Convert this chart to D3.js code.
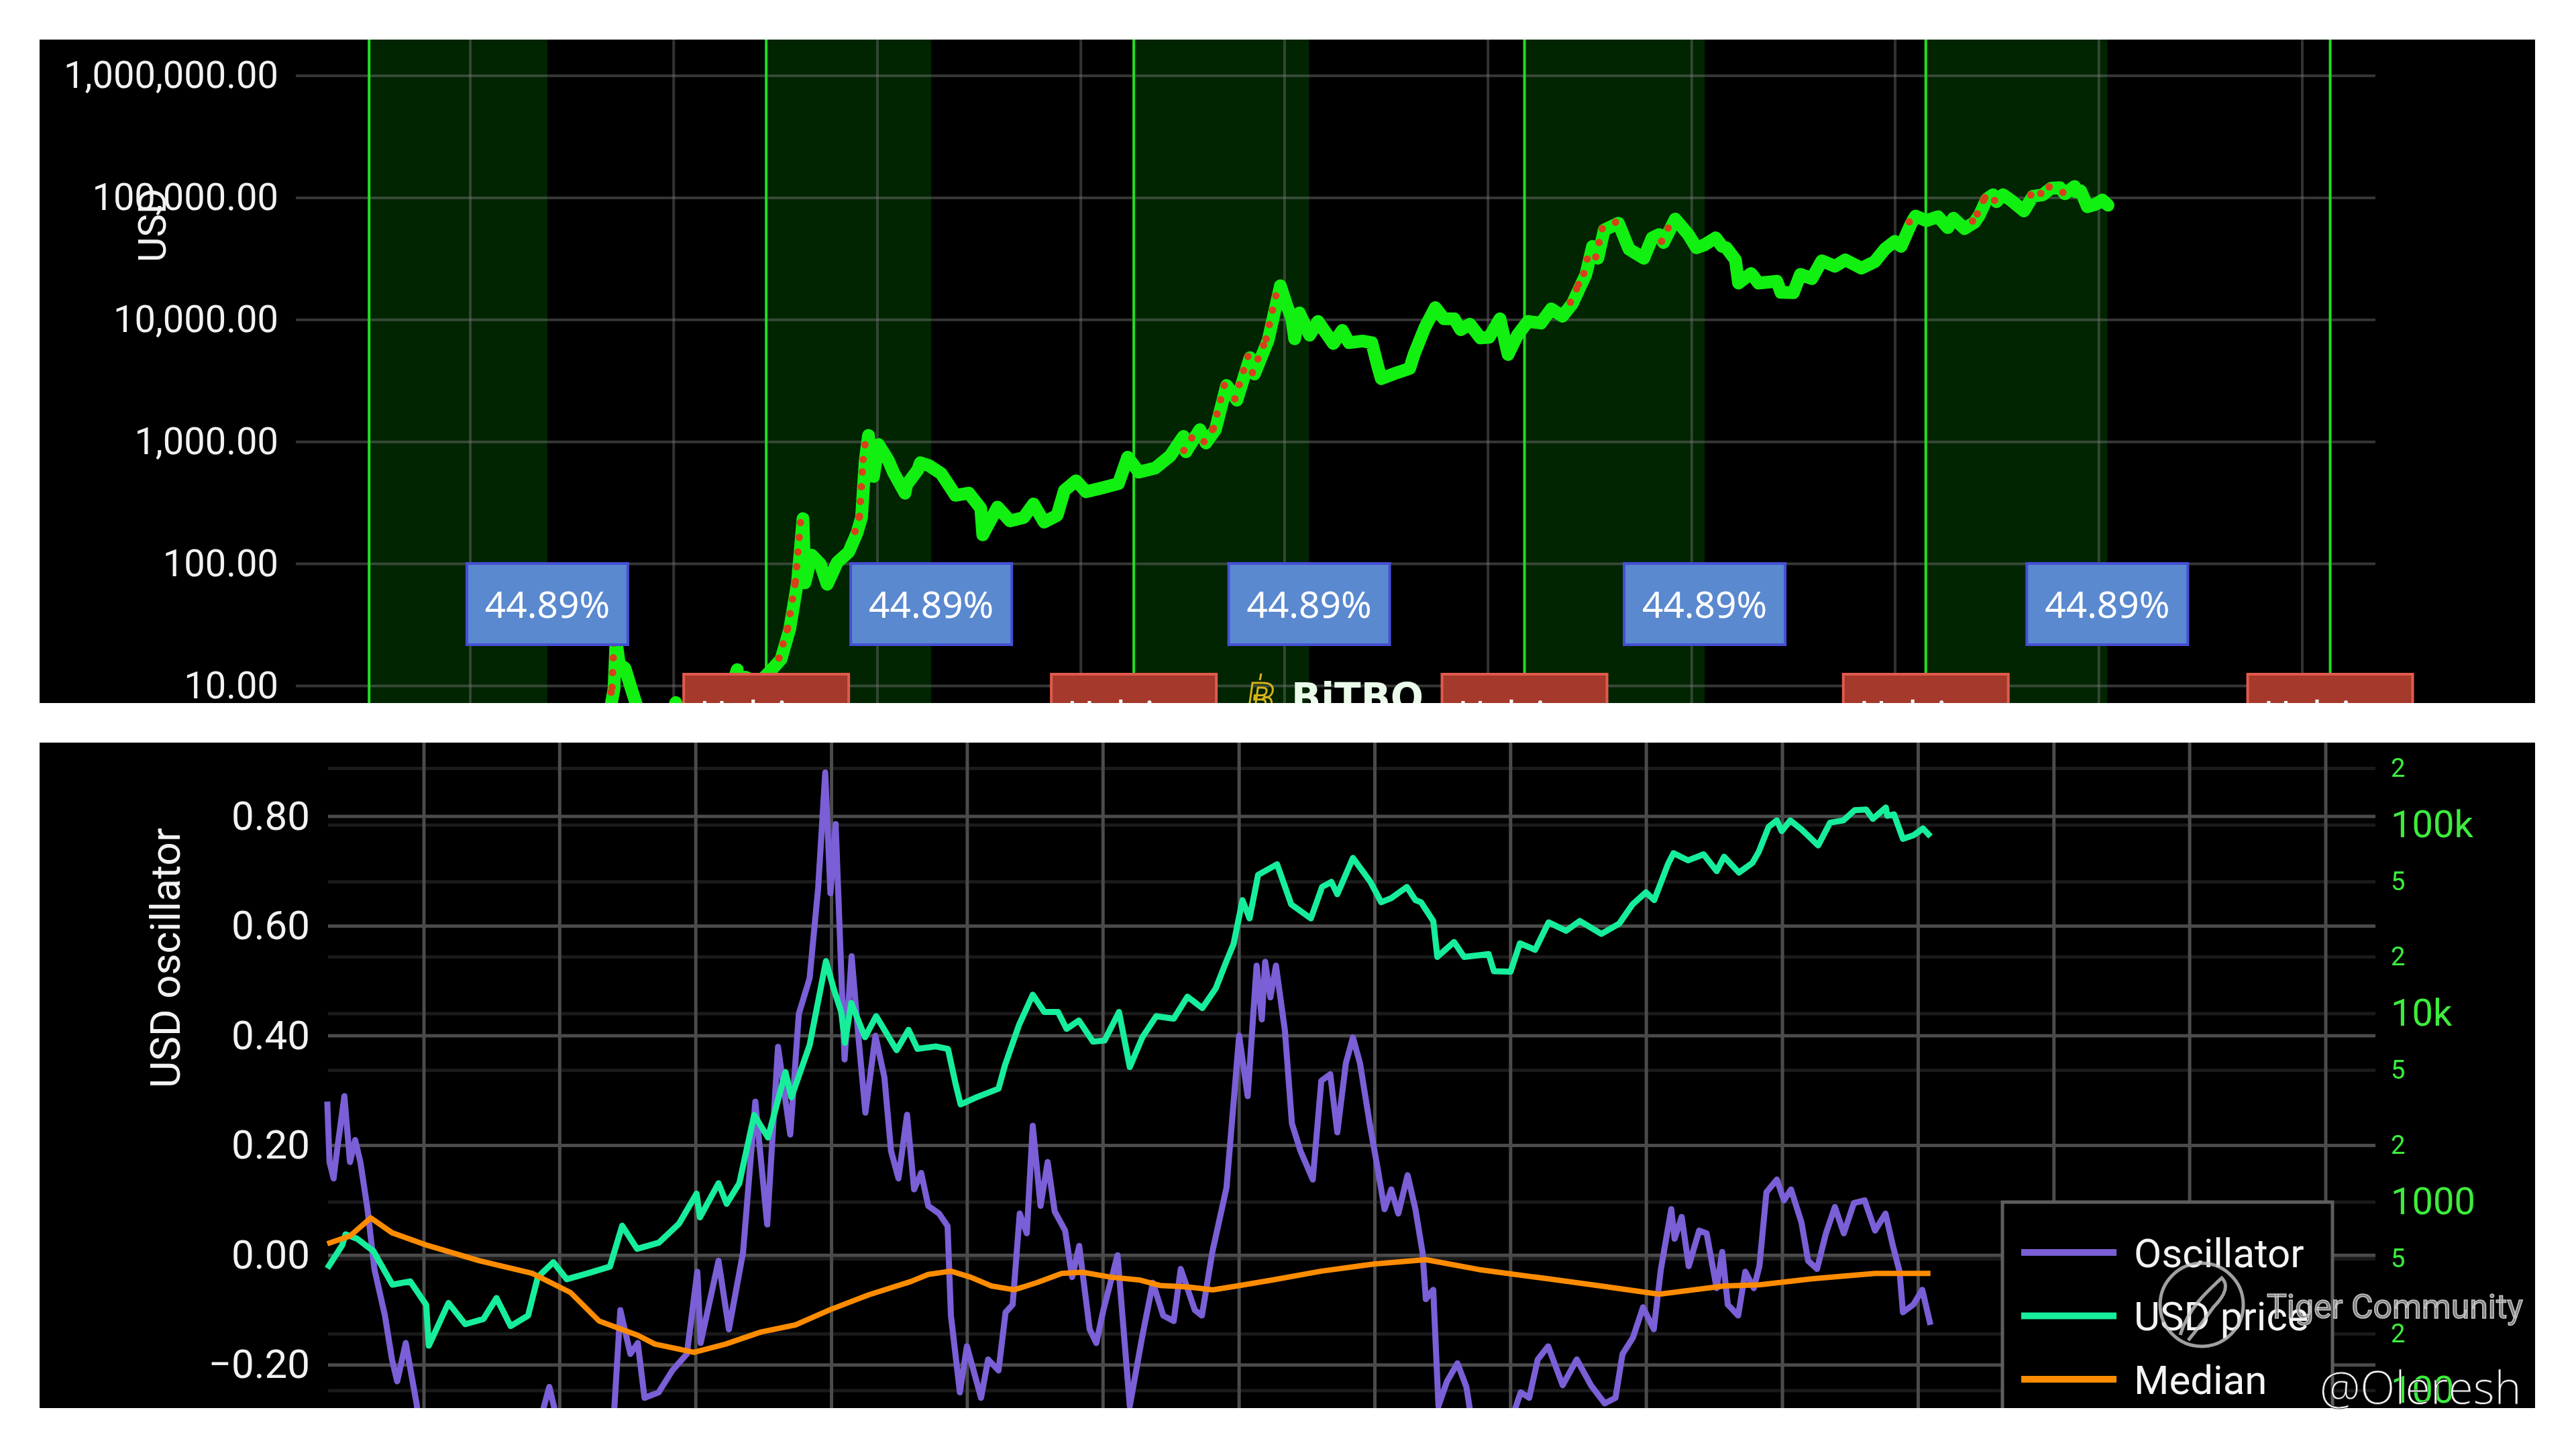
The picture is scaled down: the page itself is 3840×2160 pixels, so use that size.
<!DOCTYPE html>
<html><head><meta charset="utf-8">
<script src="https://cdn.jsdelivr.net/npm/d3@7"></script>
<style>html,body{margin:0;padding:0;background:#fff;overflow:hidden}svg{display:block}</style>
</head><body>
<svg id="c" width="3840" height="2160"></svg>
<script>
// ---------------- DATA ----------------
const priceDates = ["2010-07-18","2010-10-15","2010-11-07","2011-01-15","2011-02-10","2011-04-15","2011-05-10","2011-06-01","2011-06-08","2011-06-14","2011-06-20","2011-07-10","2011-08-05","2011-09-10","2011-10-20","2011-11-18","2012-01-08","2012-02-20","2012-04-15","2012-06-10","2012-07-10","2012-08-16","2012-08-20","2012-09-15","2012-11-01","2012-12-15","2013-01-20","2013-02-20","2013-03-20","2013-04-09","2013-04-16","2013-05-10","2013-06-10","2013-07-05","2013-08-10","2013-09-20","2013-10-20","2013-11-05","2013-11-18","2013-11-30","2013-12-18","2014-01-05","2014-02-10","2014-02-28","2014-04-10","2014-04-16","2014-05-26","2014-06-04","2014-07-05","2014-08-18","2014-10-08","2014-11-25","2015-01-07","2015-01-14","2015-03-08","2015-04-22","2015-06-10","2015-07-15","2015-08-22","2015-10-08","2015-11-03","2015-12-15","2016-01-20","2016-03-18","2016-05-15","2016-06-17","2016-07-27","2016-09-24","2016-11-17","2017-01-03","2017-01-12","2017-03-03","2017-03-25","2017-04-28","2017-06-07","2017-07-14","2017-08-30","2017-09-15","2017-11-03","2017-12-17","2018-01-08","2018-01-27","2018-02-06","2018-02-23","2018-04-01","2018-05-01","2018-06-25","2018-07-27","2018-08-20","2018-10-08","2018-11-10","2018-12-01","2018-12-14","2019-01-26","2019-03-26","2019-04-12","2019-05-20","2019-06-26","2019-07-27","2019-09-02","2019-09-25","2019-10-28","2019-12-05","2020-01-05","2020-02-13","2020-03-13","2020-04-16","2020-05-23","2020-07-09","2020-08-15","2020-09-24","2020-10-30","2020-11-28","2020-12-17","2021-01-10","2021-01-29","2021-02-21","2021-04-13","2021-05-21","2021-07-13","2021-08-12","2021-09-06","2021-09-22","2021-11-03","2021-12-20","2022-01-18","2022-02-14","2022-03-28","2022-04-20","2022-05-05","2022-06-07","2022-06-18","2022-08-02","2022-08-29","2022-11-03","2022-11-17","2023-01-01","2023-01-26","2023-03-08","2023-04-13","2023-05-30","2023-07-06","2023-09-02","2023-10-20","2023-11-25","2023-12-31","2024-01-22","2024-02-28","2024-03-14","2024-04-22","2024-06-03","2024-07-08","2024-07-28","2024-09-06","2024-10-12","2024-10-29","2024-11-25","2024-12-17","2024-12-30","2025-01-22","2025-02-21","2025-04-07","2025-05-09","2025-06-14","2025-07-14","2025-08-14","2025-09-01","2025-10-06","2025-10-10","2025-10-28","2025-11-21","2025-12-20","2026-01-14","2026-02-03"];
const priceValues = [0.06,0.1,0.39,0.4,1.05,1.2,5,9.5,24,19,15,14,9,5,2.5,2.1,7.3,4.5,4.9,5.6,7.6,13.6,9.5,11.8,10.6,13.4,16.5,29,70,235,70,118,100,68,103,125,180,240,700,1130,520,950,700,560,380,445,590,675,640,550,365,380,285,173,292,225,240,310,220,250,400,480,390,420,455,750,565,610,770,1110,830,1260,980,1260,2900,2200,4900,3600,6800,19000,13300,10200,7000,11400,7500,9700,6400,8200,6500,6700,6500,4200,3300,3600,4000,5300,8700,12600,10200,10200,8300,9200,7100,7200,10200,5200,7500,9700,9400,12300,10700,13600,19000,23400,40000,32000,54500,62000,38000,32000,47000,50000,43000,67000,50000,39000,41000,47000,40000,39000,31000,20000,24000,20000,20700,16800,16700,23600,21800,30500,27500,31000,26500,30000,38000,44000,40000,62000,71000,65000,70000,57000,68000,56000,63000,72000,98000,106000,93000,106000,95000,78000,103000,106000,120000,121000,108000,124000,112000,114000,84500,88500,96000,87000];

const oscDates = ["2014-04-16","2014-04-22","2014-05-03","2014-05-12","2014-06-01","2014-06-16","2014-06-30","2014-07-14","2014-08-02","2014-08-21","2014-09-18","2014-10-07","2014-10-21","2014-11-13","2014-12-12","2015-01-14","2015-03-10","2015-05-01","2015-07-10","2015-08-25","2015-11-10","2015-12-04","2015-12-25","2016-02-15","2016-04-20","2016-05-25","2016-06-12","2016-07-09","2016-07-29","2016-08-16","2016-09-23","2016-10-30","2016-12-08","2017-01-05","2017-01-14","2017-03-03","2017-03-31","2017-05-08","2017-06-10","2017-07-12","2017-08-10","2017-09-12","2017-10-05","2017-11-03","2017-11-26","2017-12-15","2017-12-29","2018-01-12","2018-02-05","2018-02-24","2018-03-14","2018-04-02","2018-04-29","2018-05-23","2018-06-10","2018-06-30","2018-07-23","2018-08-11","2018-08-30","2018-09-18","2018-10-17","2018-11-09","2018-11-18","2018-12-12","2018-12-31","2019-02-07","2019-02-26","2019-03-26","2019-04-14","2019-05-03","2019-05-22","2019-06-10","2019-06-26","2019-07-17","2019-08-05","2019-08-24","2019-09-21","2019-10-10","2019-10-29","2019-11-26","2019-12-14","2020-01-02","2020-02-09","2020-03-13","2020-04-15","2020-05-14","2020-06-11","2020-07-09","2020-07-28","2020-09-04","2020-09-23","2020-10-21","2020-11-28","2021-01-01","2021-01-24","2021-02-17","2021-03-03","2021-03-12","2021-03-26","2021-04-10","2021-05-04","2021-05-23","2021-06-15","2021-07-18","2021-08-10","2021-09-03","2021-09-22","2021-10-15","2021-11-03","2021-11-22","2021-12-20","2022-01-08","2022-01-27","2022-02-14","2022-03-05","2022-03-30","2022-04-20","2022-05-09","2022-05-18","2022-06-07","2022-06-21","2022-07-14","2022-08-11","2022-09-04","2022-09-18","2022-11-03","2022-11-25","2023-01-28","2023-02-20","2023-03-15","2023-04-12","2023-05-21","2023-06-28","2023-08-05","2023-09-11","2023-10-10","2023-10-29","2023-11-26","2023-12-23","2024-01-21","2024-02-09","2024-03-08","2024-03-17","2024-04-05","2024-04-24","2024-05-22","2024-06-11","2024-07-08","2024-07-23","2024-08-07","2024-09-04","2024-09-23","2024-10-16","2024-10-31","2024-11-19","2024-12-17","2025-01-05","2025-01-24","2025-02-21","2025-03-11","2025-04-04","2025-04-28","2025-05-22","2025-06-15","2025-07-12","2025-08-10","2025-09-07","2025-10-05","2025-10-24","2025-11-12","2025-11-21","2025-12-19","2026-01-12","2026-02-03"];
const oscValues = [0.28,0.17,0.14,0.19,0.29,0.17,0.21,0.17,0.085,-0.026,-0.11,-0.19,-0.23,-0.16,-0.27,-0.45,-0.33,-0.40,-0.34,-0.42,-0.30,-0.24,-0.30,-0.38,-0.34,-0.30,-0.10,-0.18,-0.16,-0.26,-0.25,-0.21,-0.18,-0.03,-0.16,-0.01,-0.135,0.005,0.28,0.056,0.38,0.22,0.44,0.505,0.67,0.88,0.66,0.786,0.357,0.545,0.40,0.26,0.40,0.325,0.19,0.14,0.256,0.12,0.15,0.09,0.076,0.053,-0.11,-0.25,-0.166,-0.26,-0.19,-0.21,-0.104,-0.09,0.076,0.04,0.236,0.09,0.17,0.08,0.045,-0.04,0.017,-0.135,-0.16,-0.10,0.0,-0.275,-0.15,-0.05,-0.11,-0.12,-0.025,-0.10,-0.11,0.006,0.123,0.40,0.29,0.528,0.43,0.535,0.47,0.528,0.41,0.24,0.19,0.138,0.318,0.33,0.224,0.35,0.397,0.35,0.232,0.16,0.084,0.12,0.076,0.146,0.084,0.006,-0.08,-0.063,-0.275,-0.23,-0.197,-0.24,-0.30,-0.29,-0.38,-0.25,-0.26,-0.19,-0.166,-0.237,-0.19,-0.237,-0.27,-0.26,-0.18,-0.15,-0.095,-0.135,-0.026,0.084,0.03,0.07,-0.02,0.045,0.04,-0.06,0.006,-0.09,-0.11,-0.03,-0.06,-0.02,0.115,0.138,0.10,0.12,0.06,-0.01,-0.025,0.04,0.088,0.04,0.095,0.10,0.045,0.076,0.02,-0.03,-0.104,-0.09,-0.063,-0.127];

const medianDates = ["2014-04-16","2014-06-16","2014-08-11","2014-10-07","2015-01-10","2015-05-30","2015-10-19","2016-01-30","2016-04-16","2016-07-29","2016-09-13","2016-12-27","2017-03-22","2017-06-25","2017-09-26","2017-12-29","2018-04-12","2018-08-02","2018-09-18","2018-11-18","2019-01-10","2019-03-07","2019-05-07","2019-07-07","2019-09-12","2019-11-07","2020-01-22","2020-04-07","2020-06-02","2020-08-17","2020-10-22","2020-12-26","2021-04-01","2021-08-10","2021-12-29","2022-05-18","2022-10-07","2023-04-12","2023-09-01","2024-02-04","2024-07-28","2024-10-31","2025-03-22","2025-09-07","2026-02-03"];
const medianValues = [0.021,0.035,0.068,0.041,0.018,-0.01,-0.033,-0.068,-0.12,-0.146,-0.162,-0.177,-0.162,-0.14,-0.127,-0.099,-0.072,-0.048,-0.035,-0.029,-0.04,-0.056,-0.063,-0.05,-0.033,-0.031,-0.04,-0.045,-0.055,-0.058,-0.063,-0.056,-0.045,-0.029,-0.016,-0.008,-0.026,-0.043,-0.056,-0.071,-0.056,-0.054,-0.043,-0.033,-0.033];

const halvingDates = ["2009-01-03","2012-11-28","2016-07-09","2020-05-11","2024-04-20","2028-04-10"];
const cycleShare = 0.4489;
const cycleLabel = "44.89%";
const halvingLabel = "Halving";

const topTickValues = [10,100,1000,10000,100000,1000000];
const topTickLabels = ["10.00","100.00","1,000.00","10,000.00","100,000.00","1,000,000.00"];
const topGridYears = [2010,2012,2014,2016,2018,2020,2022,2024,2026,2028];

const oscTickValues = [-0.2,0,0.2,0.4,0.6,0.8];
const oscTickLabels = ["\u22120.20","0.00","0.20","0.40","0.60","0.80"];
const usdTickValues = [200000,100000,50000,20000,10000,5000,2000,1000,500,200,100];
const usdTickLabels = ["2","100k","5","2","10k","5","2","1000","5","2","100"];
const bottomGridYears = [2015,2016,2017,2018,2019,2020,2021,2022,2023,2024,2025,2026,2027,2028,2029];
const legendLabels = ["Oscillator","USD price","Median"];

// ---------------- SETUP ----------------
const parse = d3.timeParse("%Y-%m-%d");
const price = priceDates.map((d,i)=>({date:parse(d), value:priceValues[i]}));
const osc = oscDates.map((d,i)=>({date:parse(d), value:oscValues[i]}));
const med = medianDates.map((d,i)=>({date:parse(d), value:medianValues[i]}));
const halvings = halvingDates.map(parse);

const svg = d3.select("#c");
const defs = svg.append("defs");
svg.append("rect").attr("width",3840).attr("height",2160).attr("fill","#ffffff");

const TOP = {x:59, y:59, w:3720, h:989, l:441, r:3541};
const BOT = {x:59, y:1107, w:3720, h:992, l:489, r:3541};
const FONT = "Roboto, 'Liberation Sans', sans-serif";

defs.append("clipPath").attr("id","clipTop").append("rect")
  .attr("x",TOP.x).attr("y",TOP.y).attr("width",TOP.w).attr("height",TOP.h);
defs.append("clipPath").attr("id","clipBot").append("rect")
  .attr("x",BOT.x).attr("y",BOT.y).attr("width",BOT.w).attr("height",BOT.h);

// ---------------- TOP PANEL ----------------
const xTop = d3.scaleTime().domain([new Date(2010,0,1), new Date(2028,0,1)]).range([701, 3432]);
const yTop = d3.scaleLog().domain([10, 1e6]).range([1022.5, 113]);

svg.append("rect").attr("x",TOP.x).attr("y",TOP.y).attr("width",TOP.w).attr("height",TOP.h).attr("fill","#000");
const gT = svg.append("g").attr("clip-path","url(#clipTop)");

const shades = d3.range(halvings.length-1).map(i=>{
  const a = halvings[i], b = halvings[i+1];
  return {start:a, end:new Date(+a + cycleShare*(b-a))};
});
gT.selectAll("rect.shade").data(shades).join("rect").attr("class","shade")
  .attr("x",d=>xTop(d.start)).attr("width",d=>xTop(d.end)-xTop(d.start))
  .attr("y",TOP.y).attr("height",TOP.h).attr("fill","#012401");

gT.selectAll("line.vg").data(topGridYears).join("line").attr("class","vg")
  .attr("x1",d=>xTop(new Date(d,0,1))).attr("x2",d=>xTop(new Date(d,0,1)))
  .attr("y1",TOP.y).attr("y2",TOP.y+TOP.h)
  .attr("stroke","rgba(120,120,120,0.42)").attr("stroke-width",4);
gT.selectAll("line.hg").data(topTickValues).join("line").attr("class","hg")
  .attr("x1",TOP.l).attr("x2",TOP.r).attr("y1",d=>yTop(d)).attr("y2",d=>yTop(d))
  .attr("stroke","rgba(120,120,120,0.45)").attr("stroke-width",4);

gT.selectAll("line.hv").data(halvings).join("line").attr("class","hv")
  .attr("x1",d=>xTop(d)).attr("x2",d=>xTop(d)).attr("y1",TOP.y).attr("y2",TOP.y+TOP.h)
  .attr("stroke","#22dd22").attr("stroke-width",4);

const lineTop = d3.line().x(d=>xTop(d.date)).y(d=>yTop(d.value));
gT.append("path").datum(price).attr("d",lineTop).attr("fill","none")
  .attr("stroke","#12f012").attr("stroke-width",19).attr("stroke-linejoin","round").attr("stroke-linecap","round");

// red dots on legs rising to all-time highs
let runMax = 0; const athSegs = [];
price.forEach((d,i)=>{ if(d.value>=runMax){ if(i>0) athSegs.push([price[i-1],d]); runMax=d.value; } });
gT.selectAll("path.ath").data(athSegs).join("path").attr("class","ath")
  .attr("d",lineTop).attr("fill","none").attr("stroke","#d8401c").attr("stroke-width",11)
  .attr("stroke-linecap","round").attr("stroke-dasharray","0 22").attr("transform","translate(-3,-2)");

// percentage boxes
const pb = gT.selectAll("g.pbox").data(shades).join("g").attr("class","pbox")
  .attr("transform",d=>`translate(${xTop(d.end)},0)`);
pb.append("rect").attr("x",-120).attr("y",840).attr("width",240).attr("height",121)
  .attr("fill","#5a89cf").attr("stroke","#4650d4").attr("stroke-width",4);
pb.append("text").attr("x",0).attr("y",901).attr("dy","0.36em").attr("text-anchor","middle")
  .attr("fill","#ffffff").style("font-family","'Noto Sans', 'Open Sans', sans-serif").style("font-size","55px")
  .text(cycleLabel);

// halving boxes
const hb = gT.selectAll("g.hbox").data(halvings.slice(1)).join("g").attr("class","hbox")
  .attr("transform",d=>`translate(${xTop(d)},0)`);
hb.append("rect").attr("x",-123).attr("y",1005).attr("width",246).attr("height",130)
  .attr("fill","#a5392b").attr("stroke","#e25a4d").attr("stroke-width",4);
hb.append("text").attr("x",0).attr("y",1086).attr("text-anchor","middle").attr("fill","#ffffff")
  .style("font-family","'Noto Sans', sans-serif").style("font-size","56px").text(halvingLabel);

// BITBO watermark
const bl = gT.append("g");
bl.append("text").attr("x",1880).attr("y",1062).attr("text-anchor","middle")
  .attr("fill","none").attr("stroke","#d7b21c").attr("stroke-width",3)
  .attr("transform","skewX(-8) translate(146,0)")
  .style("font-family",FONT).style("font-weight","700").style("font-size","62px").text("B");
bl.append("line").attr("x1",1880).attr("x2",1878).attr("y1",1004).attr("y2",1014).attr("stroke","#d7b21c").attr("stroke-width",3);
bl.append("text").attr("x",1925).attr("y",1060).attr("fill","#eafbea")
  .style("font-family","'DejaVu Sans', sans-serif").style("font-weight","700").style("font-size","58px").text("BiTBO");

// top axis
const gTopAxis = svg.append("g").attr("transform",`translate(${TOP.l},0)`)
  .call(d3.axisLeft(yTop).tickValues(topTickValues).tickFormat((d,i)=>topTickLabels[i]).tickSize(0).tickPadding(26));
gTopAxis.select(".domain").remove();
gTopAxis.selectAll("text").attr("fill","#f2f2f2").style("font-family",FONT).style("font-size","56px");
svg.append("text").attr("transform","translate(226,336) rotate(-90)").attr("text-anchor","middle").attr("dy","0.36em")
  .attr("fill","#f2f2f2").style("font-family",FONT).style("font-size","58px").text("USD");

// ---------------- BOTTOM PANEL ----------------
const xBot = d3.scaleTime().domain([new Date(2015,0,1), new Date(2029,0,1)]).range([632, 3467]);
const yOsc = d3.scaleLinear().domain([-0.2, 0.8]).range([2034.7, 1217]);
const yUsd = d3.scaleLog().domain([100, 100000]).range([2073, 1230]);

svg.append("rect").attr("x",BOT.x).attr("y",BOT.y).attr("width",BOT.w).attr("height",BOT.h).attr("fill","#000");
const gB = svg.append("g").attr("clip-path","url(#clipBot)");

gB.selectAll("line.fg").data(usdTickValues).join("line").attr("class","fg")
  .attr("x1",BOT.l).attr("x2",BOT.r).attr("y1",d=>yUsd(d)).attr("y2",d=>yUsd(d))
  .attr("stroke","#1a1a1a").attr("stroke-width",5);
gB.selectAll("line.mg").data(oscTickValues).join("line").attr("class","mg")
  .attr("x1",BOT.l).attr("x2",BOT.r).attr("y1",d=>yOsc(d)).attr("y2",d=>yOsc(d))
  .attr("stroke","#4b4b4b").attr("stroke-width",5);
gB.selectAll("line.bv").data(bottomGridYears).join("line").attr("class","bv")
  .attr("x1",d=>xBot(new Date(d,0,1))).attr("x2",d=>xBot(new Date(d,0,1)))
  .attr("y1",BOT.y).attr("y2",BOT.y+BOT.h).attr("stroke","#4b4b4b").attr("stroke-width",5);

const oscStart = osc[0].date;
const priceBot = price.filter(d=>d.date>=oscStart);
const COLORS = {osc:"#7a5fd6", usd:"#17ee9c", med:"#ff8c00"};

gB.append("path").datum(osc).attr("fill","none").attr("stroke",COLORS.osc).attr("stroke-width",9)
  .attr("stroke-linejoin","round").attr("d",d3.line().x(d=>xBot(d.date)).y(d=>yOsc(d.value)));
gB.append("path").datum(priceBot).attr("fill","none").attr("stroke",COLORS.usd).attr("stroke-width",9)
  .attr("stroke-linejoin","round").attr("d",d3.line().x(d=>xBot(d.date)).y(d=>yUsd(d.value)));
gB.append("path").datum(med).attr("fill","none").attr("stroke",COLORS.med).attr("stroke-width",8)
  .attr("stroke-linejoin","round").attr("d",d3.line().x(d=>xBot(d.date)).y(d=>yOsc(d.value)));

// bottom axes
const gL = svg.append("g").attr("transform",`translate(${BOT.l},0)`)
  .call(d3.axisLeft(yOsc).tickValues(oscTickValues).tickFormat((d,i)=>oscTickLabels[i]).tickSize(0).tickPadding(27));
gL.select(".domain").remove();
gL.selectAll("text").attr("fill","#f2f2f2").style("font-family",FONT).style("font-size","60px");

const gR = svg.append("g").attr("transform",`translate(${BOT.r},0)`)
  .call(d3.axisRight(yUsd).tickValues(usdTickValues).tickFormat((d,i)=>usdTickLabels[i]).tickSize(0).tickPadding(23));
gR.select(".domain").remove();
gR.selectAll("text").attr("fill","#3ded3d").style("font-family",FONT)
  .style("font-size",(d,i)=>usdTickLabels[i].length>1?"56px":"38px");

svg.append("text").attr("transform","translate(246,1428) rotate(-90)").attr("text-anchor","middle").attr("dy","0.36em")
  .attr("fill","#f2f2f2").style("font-family",FONT).style("font-size","62px").text("USD oscillator");

// legend
const gLeg = gB.append("g");
gLeg.append("rect").attr("x",2985).attr("y",1792).attr("width",492).attr("height",400)
  .attr("fill","#000").attr("stroke","#5e5e5e").attr("stroke-width",5);
const legColors = [COLORS.osc, COLORS.usd, COLORS.med];
const li = gLeg.selectAll("g.li").data(legendLabels).join("g").attr("class","li")
  .attr("transform",(d,i)=>`translate(0,${1867+i*94.5})`);
li.append("line").attr("x1",3013).attr("x2",3155).attr("y1",0).attr("y2",0)
  .attr("stroke",(d,i)=>legColors[i]).attr("stroke-width",10);
li.append("text").attr("x",3181).attr("y",0).attr("dy","0.36em").attr("fill","#f4f4f4")
  .style("font-family",FONT).style("font-size","60px").text(d=>d);

// watermarks
const wm = svg.append("g");
wm.append("circle").attr("cx",3282).attr("cy",1945).attr("r",62).attr("fill","none")
  .attr("stroke","#c8c8c8").attr("stroke-width",5).attr("opacity",0.8);
wm.append("path").attr("d","M3250,1990 C3262,1950 3290,1925 3312,1905 C3322,1915 3318,1930 3300,1948 C3290,1962 3278,1978 3262,1998")
  .attr("fill","none").attr("stroke","#c8c8c8").attr("stroke-width",5).attr("opacity",0.8);
wm.append("text").attr("x",3379).attr("y",1965).attr("fill","#8e8e8e").attr("stroke","#dedede").attr("stroke-width",1.5)
  .attr("opacity",0.9).style("font-family",FONT).style("font-size","50px").text("Tiger Community");
wm.append("text").attr("x",3458).attr("y",2093).attr("fill","#ffffff").attr("stroke","#333").attr("stroke-width",0.8)
  .style("font-family","'Open Sans', 'Noto Sans', sans-serif").style("font-weight","300").style("font-size","68px").text("@Oleresh");
</script>
</body></html>
